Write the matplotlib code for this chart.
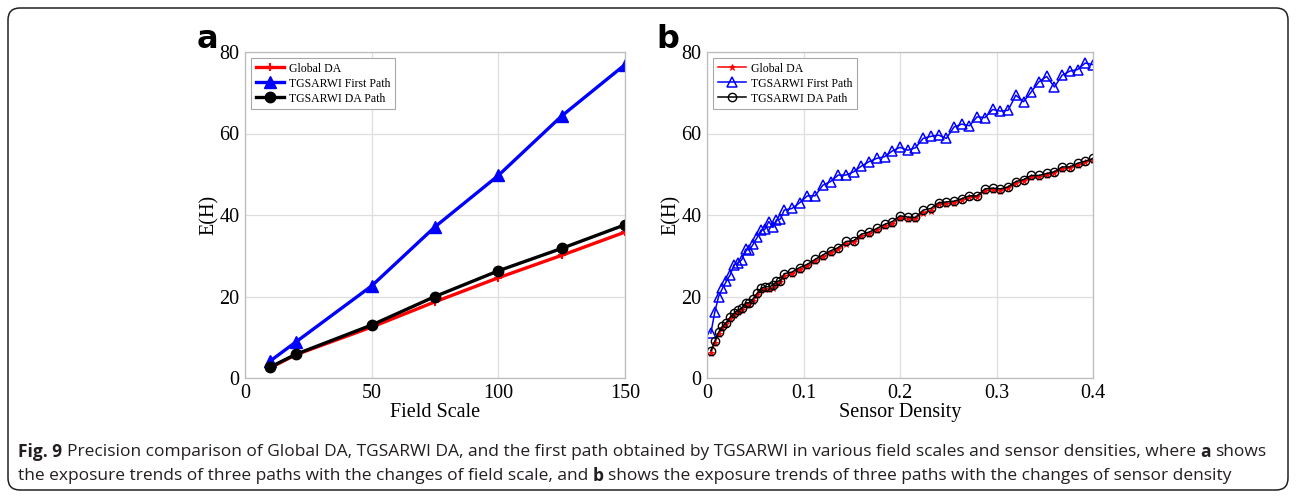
import matplotlib.pyplot as plt
from matplotlib.patches import FancyBboxPatch
from matplotlib.transforms import IdentityTransform

# (a) exposure vs field scale
field_scale = [10, 20, 50, 75, 100, 125, 150]
global_da_a = [2.5, 5.7, 12.5, 18.7, 24.6, 30.1, 35.8]
first_path_a = [4.2, 8.8, 22.6, 37.1, 49.7, 64.3, 76.9]
da_path_a = [2.7, 5.8, 13.0, 20.0, 26.3, 31.8, 37.6]

# (b) exposure vs sensor density
density = [0.004, 0.008, 0.012, 0.016, 0.020, 0.024, 0.028, 0.032, 0.036, 0.040,
           0.044, 0.048, 0.052, 0.056, 0.060, 0.064, 0.068, 0.072, 0.076, 0.080,
           0.088, 0.096, 0.104, 0.112, 0.120, 0.128, 0.136, 0.144, 0.152, 0.160,
           0.168, 0.176, 0.184, 0.192, 0.200, 0.208, 0.216, 0.224, 0.232, 0.240,
           0.248, 0.256, 0.264, 0.272, 0.280, 0.288, 0.296, 0.304, 0.312, 0.320,
           0.328, 0.336, 0.344, 0.352, 0.360, 0.368, 0.376, 0.384, 0.392, 0.400]
first_path_b = [11.0, 16.1, 20.0, 22.0, 23.7, 25.3, 27.8, 28.2, 29.0, 31.6,
                31.4, 32.9, 34.5, 36.3, 36.5, 38.4, 37.1, 38.8, 39.0, 41.2,
                41.6, 43.0, 44.7, 44.7, 47.3, 48.2, 49.8, 49.8, 50.6, 52.0,
                53.1, 53.9, 54.3, 55.7, 56.6, 55.9, 56.5, 58.8, 59.3, 59.6,
                58.8, 61.6, 62.3, 61.9, 64.1, 63.9, 65.9, 65.5, 65.7, 69.4,
                67.8, 70.2, 72.7, 74.0, 71.4, 74.3, 75.3, 75.7, 77.3, 76.9]
da_path_b = [6.7, 9.0, 11.2, 12.7, 13.6, 14.9, 15.9, 16.7, 17.1, 18.4,
             18.5, 19.5, 20.8, 22.0, 22.4, 22.4, 22.7, 23.7, 23.9, 25.6,
             26.0, 27.1, 27.9, 29.1, 30.2, 31.2, 32.0, 33.5, 33.7, 35.3,
             35.8, 36.7, 37.7, 38.4, 39.8, 39.5, 39.4, 41.2, 41.6, 43.0,
             43.2, 43.4, 44.0, 44.7, 44.7, 46.4, 46.6, 46.4, 46.9, 48.2,
             48.7, 49.7, 49.7, 50.2, 50.6, 51.8, 51.8, 52.7, 53.2, 53.9]
global_da_b = [6.2, 8.6, 10.7, 12.2, 13.2, 14.4, 15.4, 16.2, 16.7, 17.8,
               18.1, 19.0, 20.3, 21.5, 21.8, 21.9, 22.2, 23.1, 23.5, 25.0,
               25.6, 26.6, 27.5, 28.6, 29.7, 30.7, 31.6, 33.0, 33.3, 34.8,
               35.4, 36.2, 37.2, 37.9, 39.3, 39.1, 39.0, 40.6, 41.1, 42.6,
               42.8, 43.0, 43.6, 44.3, 44.4, 46.0, 46.2, 46.0, 46.6, 47.8,
               48.3, 49.3, 49.4, 49.8, 50.3, 51.4, 51.5, 52.3, 52.9, 53.6]

labels = ["Global DA", "TGSARWI First Path", "TGSARWI DA Path"]
caption_1 = [("Fig. 9", True),
             ("Precision comparison of Global DA, TGSARWI DA, and the first path obtained by "
              "TGSARWI in various field scales and sensor densities, where", False),
             ("a", True), ("shows", False)]
caption_2 = [("the exposure trends of three paths with the changes of field scale, and", False),
             ("b", True),
             ("shows the exposure trends of three paths with the changes of sensor density", False)]

plt.rcParams["font.family"] = ["Liberation Serif", "DejaVu Serif"]

fig = plt.figure(figsize=(12.96, 4.97), dpi=100)
ax_a = fig.add_axes([245 / 1296, 119 / 497, 380 / 1296, 326 / 497])
ax_b = fig.add_axes([707 / 1296, 119 / 497, 386 / 1296, 326 / 497])


def style_axes(ax):
    ax.grid(True, color="#dedede", lw=0.9)
    ax.set_axisbelow(True)
    for sp in ax.spines.values():
        sp.set_color("#bcbcbc")
        sp.set_linewidth(0.9)
    ax.tick_params(length=0, labelsize=14.5, pad=4)
    ax.set_ylim(0, 80)
    ax.set_yticks([0, 20, 40, 60, 80])
    ax.set_ylabel("E(H)", fontsize=14.5, labelpad=0)


# panel a
ax_a.plot(field_scale, global_da_a, color="red", lw=2.4, marker="+", ms=6, mew=1.5,
          label=labels[0])
ax_a.plot(field_scale, first_path_a, color="blue", lw=2.4, marker="^", ms=9,
          label=labels[1])
ax_a.plot(field_scale, da_path_a, color="black", lw=2.4, marker="o", ms=7.5,
          label=labels[2])
ax_a.set_xlim(0, 150)
ax_a.set_xticks([0, 50, 100, 150])
ax_a.set_xlabel("Field Scale", fontsize=14.5, labelpad=0)
style_axes(ax_a)

# panel b
ax_b.plot(density, global_da_b, color="red", lw=1.1, marker="*", ms=5, mew=0.6,
          label=labels[0])
ax_b.plot(density, first_path_b, color="blue", lw=1.1, marker="^", ms=7,
          mfc="none", mew=1.1, label=labels[1])
ax_b.plot(density, da_path_b, color="black", lw=1.1, marker="o", ms=6,
          mfc="none", mew=1.0, label=labels[2])
ax_b.set_xlim(0, 0.4)
ax_b.set_xticks([0, 0.1, 0.2, 0.3, 0.4])
ax_b.set_xticklabels(["0", "0.1", "0.2", "0.3", "0.4"])
ax_b.set_xlabel("Sensor Density", fontsize=14.5, labelpad=0)
style_axes(ax_b)

for ax in (ax_a, ax_b):
    leg = ax.legend(loc="upper left", fontsize=8.5, fancybox=False, framealpha=1,
                    edgecolor="#a8a8a8", borderaxespad=0.5, handlelength=2.4,
                    handletextpad=0.4, labelspacing=0.25, borderpad=0.4)
    leg.get_frame().set_linewidth(0.8)

fig.text(197 / 1296, 1 - 40 / 497, "a", fontsize=23, fontweight="bold",
         family="DejaVu Sans", va="center", ha="left")
fig.text(656 / 1296, 1 - 40 / 497, "b", fontsize=23, fontweight="bold",
         family="DejaVu Sans", va="center", ha="left")

# outer frame
frame = FancyBboxPatch((8, 7), 1280, 482, boxstyle="round,pad=0,rounding_size=12",
                       transform=IdentityTransform(), fill=False, ec="#231f20", lw=1.1)
fig.patches.append(frame)

# caption with bold pieces
renderer = fig.canvas.get_renderer()
cap_font = ["Liberation Sans Narrow", "Open Sans", "DejaVu Sans"]
cap_size = 12.5


def text_width(s, bold):
    t = fig.text(0, 0, s, fontsize=cap_size, family=cap_font,
                 fontweight="bold" if bold else "normal")
    w = t.get_window_extent(renderer=renderer).width
    t.remove()
    return w


space = text_width("x x", False) - text_width("xx", False)


def caption_line(parts, x_px, y_px):
    for s, bold in parts:
        fig.text(x_px / 1296, 1 - y_px / 497, s, fontsize=cap_size, family=cap_font,
                 fontweight="bold" if bold else "normal", color="#231f20",
                 va="center", ha="left")
        x_px += text_width(s, bold) + space


caption_line(caption_1, 18, 452)
caption_line(caption_2, 18, 476)

fig.savefig("out.png", dpi=100)
